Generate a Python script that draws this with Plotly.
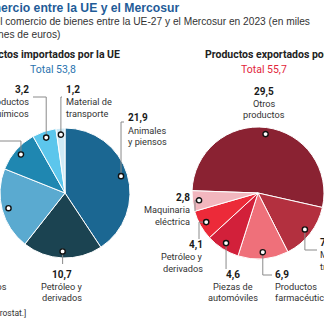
import math
import plotly.graph_objects as go

W = H = 324

# ---------------- data ----------------
title = "Comercio entre la UE y el Mercosur"
subtitle_lines = ["Valor del comercio de bienes entre la UE-27 y el Mercosur en 2023 (en miles",
                  "de millones de euros)"]
source = "[Fuente: Eurostat.]"

imp_title = "Productos importados por la UE"
imp_cats = ["Animales\ny piensos", "Petróleo y\nderivados", "Minerales metálicos",
            "Otros\nproductos", "Productos\nquímicos", "Material de\ntransporte"]
imp_vals = [21.9, 10.7, 11.0, 5.8, 3.2, 1.2]
imp_colors = ["#1b6792", "#1b4351", "#5aaad0", "#1f87b1", "#5cc6ec", "#cfeaf6"]

exp_title = "Productos exportados por la UE"
exp_cats = ["Otros\nproductos", "Material de\ntransporte", "Productos\nfarmacéuticos",
            "Piezas de\nautomóviles", "Petróleo y\nderivados", "Maquinaria\neléctrica"]
exp_vals = [29.5, 7.8, 6.9, 4.6, 4.1, 2.8]
exp_colors = ["#8a2232", "#b3303f", "#ef707a", "#d2203a", "#ec2a39", "#f2b6be"]

# ---------------- layout helpers ----------------
LABEL_FONT = "Roboto, Liberation Sans, sans-serif"
TEXT_FONT = "Liberation Sans, Arial, sans-serif"


def X(px):
    return px / W


def Y(py):
    return 1 - py / H


def fmt(v):
    return f"{v:.1f}".replace(".", ",")


# pie geometry (pixels)
L = dict(cx=65, cy=193, r=65, rot=0)
R = dict(cx=258, cy=193, r=66, rot=-88)

# label placement per slice (pixels)
imp_lab = [
    dict(x=127, y=118.5, anchor="left", leader=[("v", 122), ("h", 124)]),
    dict(x=62, y=274.5, anchor="center", leader=[("v", 264)]),
    dict(x=8, y=274.5, anchor="right", vx=-25, leader=None),
    dict(x=-8, y=128, anchor="right", leader=[("v", 141), ("h", -10)]),
    dict(x=30, y=90, anchor="right", leader=[("v", 97), ("h", 33)]),
    dict(x=65, y=90, anchor="left", leader=[("v", 97), ("h", 62)]),
]
exp_lab = [
    dict(x=264, y=91.5, anchor="center", leader=None),
    dict(x=319, y=243, anchor="left", leader=[("v", 250), ("h", 317)]),
    dict(x=274, y=274.5, anchor="left", leader=[("v", 275), ("h", 272)]),
    dict(x=233, y=274.5, anchor="center", leader=[("v", 269)]),
    dict(x=204, y=245, anchor="right", leader=[("h", 199), ("v", 239)]),
    dict(x=191, y=198, anchor="right", leader=[("h", 195), ("v", 211)]),
]
LINE = 11.5

fig = go.Figure()
annotations = []
shapes = []


def add_pie(vals, cats, colors, g):
    fig.add_trace(go.Pie(
        values=vals, labels=[c.replace("\n", " ") for c in cats],
        marker=dict(colors=colors, line=dict(color="white", width=1)),
        sort=False, direction="clockwise", rotation=g["rot"],
        textinfo="none", hoverinfo="label+value", showlegend=False,
        domain=dict(x=[max(0, X(g["cx"] - g["r"])), min(1, X(g["cx"] + g["r"]))],
                    y=[Y(g["cy"] + g["r"]), Y(g["cy"] - g["r"])]),
    ))


def add_labels(vals, cats, g, specs):
    total = sum(vals)
    cum = 0
    rd = 0.9 * g["r"]
    for v, c, s in zip(vals, cats, specs):
        th = math.radians(g["rot"] + 360 * (cum + v / 2) / total)
        cum += v
        dx = g["cx"] + rd * math.sin(th)
        dy = g["cy"] - rd * math.cos(th)
        if s["leader"]:
            px, py = dx, dy
            for kind, val in s["leader"]:
                nx, ny = (px, val) if kind == "v" else (val, py)
                shapes.append(dict(type="line", xref="paper", yref="paper",
                                   x0=X(px), y0=Y(py), x1=X(nx), y1=Y(ny),
                                   line=dict(color="#8a8a8a", width=1)))
                px, py = nx, ny
        rr = 2.6
        shapes.append(dict(type="circle", xref="paper", yref="paper",
                           x0=X(dx - rr), x1=X(dx + rr), y0=Y(dy + rr), y1=Y(dy - rr),
                           fillcolor="white", line=dict(color="#111111", width=1.4)))
        lines = [("<b>" + fmt(v) + "</b>", 10, "#1a1a1a")] + \
                [(t, 9.2, "#333333") for t in c.split("\n")]
        for i, (t, sz, col) in enumerate(lines):
            xx = s.get("vx", s["x"]) if i == 0 else s["x"]
            annotations.append(dict(
                text=t, x=X(xx), y=Y(s["y"] + i * LINE), xref="paper", yref="paper",
                xanchor=s["anchor"], yanchor="middle", showarrow=False,
                font=dict(family=LABEL_FONT, size=sz, color=col), borderpad=0))


add_pie(imp_vals, imp_cats, imp_colors, L)
add_pie(exp_vals, exp_cats, exp_colors, R)
add_labels(imp_vals, imp_cats, L, imp_lab)
add_labels(exp_vals, exp_cats, R, exp_lab)


def txt(t, x, y, anchor, size, color, family, bold=False):
    annotations.append(dict(
        text=("<b>" + t + "</b>") if bold else t, x=X(x), y=Y(y), xref="paper", yref="paper",
        xanchor=anchor, yanchor="middle", showarrow=False, borderpad=0,
        font=dict(family=family, size=size, color=color)))


txt(title, -27, 8, "left", 12.2, "#1f5c98", TEXT_FONT, bold=True)
txt(subtitle_lines[0], -38, 22, "left", 10.2, "#333333", TEXT_FONT)
txt(subtitle_lines[1], -38, 34, "left", 10.2, "#333333", TEXT_FONT)

txt(imp_title, 121, 55, "right", 10.5, "#222222", LABEL_FONT, bold=True)
txt("Total " + fmt(sum(imp_vals)), 53, 69, "center", 10.5, "#2a73ae", LABEL_FONT)
txt(exp_title, 204, 55, "left", 10.5, "#222222", LABEL_FONT, bold=True)
txt("Total " + fmt(sum(exp_vals)), 264, 69, "center", 10.5, "#e2263b", LABEL_FONT)

txt(source, 27, 313, "right", 8.5, "#333333", LABEL_FONT)

fig.update_layout(
    width=W, height=H, autosize=False,
    margin=dict(l=0, r=0, t=0, b=0),
    paper_bgcolor="white", plot_bgcolor="white",
    annotations=annotations, shapes=shapes,
)

fig.write_html("out.html")
